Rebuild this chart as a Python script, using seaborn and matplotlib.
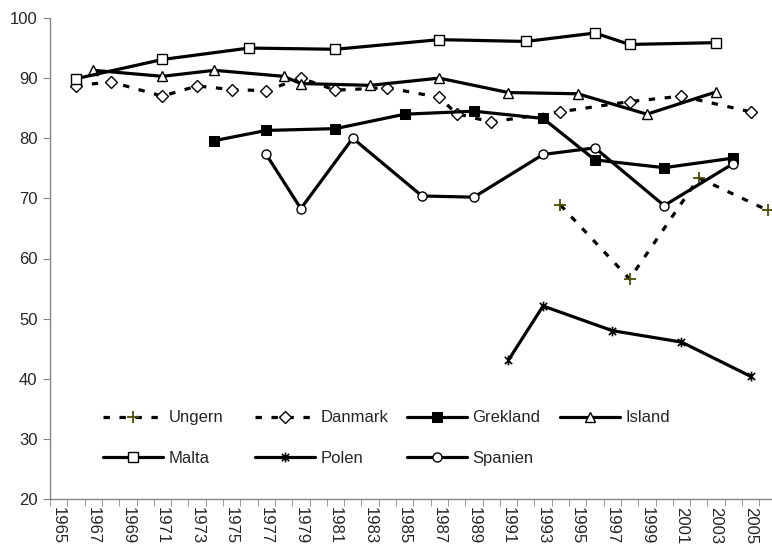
import pandas as pd
import numpy as np
import matplotlib
matplotlib.use('Agg')
import matplotlib.pyplot as plt
import seaborn as sns
from matplotlib.path import Path

# values (percent)
ungern_years = [1994, 1998, 2002, 2006]
ungern_vals = [68.9, 56.6, 73.4, 68.0]

danmark_years = [1966, 1968, 1971, 1973, 1975, 1977, 1979, 1981, 1984, 1987, 1988, 1990, 1994, 1998, 2001, 2005]
danmark_vals = [88.7, 89.4, 87.0, 88.7, 88.1, 87.9, 90.0, 88.0, 88.4, 86.8, 84.1, 82.7, 84.4, 86.1, 87.0, 84.4]

grekland_years = [1974, 1977, 1981, 1985, 1989, 1993, 1996, 2000, 2004]
grekland_vals = [79.6, 81.3, 81.6, 84.0, 84.5, 83.3, 76.4, 75.1, 76.7]

island_years = [1967, 1971, 1974, 1978, 1979, 1983, 1987, 1991, 1995, 1999, 2003]
island_vals = [91.3, 90.3, 91.3, 90.3, 89.1, 88.8, 90.0, 87.6, 87.4, 84.0, 87.7]

malta_years = [1966, 1971, 1976, 1981, 1987, 1992, 1996, 1998, 2003]
malta_vals = [89.9, 93.1, 95.0, 94.8, 96.4, 96.1, 97.5, 95.6, 95.9]

polen_years = [1991, 1993, 1997, 2001, 2005]
polen_vals = [43.1, 52.1, 48.0, 46.1, 40.4]

spanien_years = [1977, 1979, 1982, 1986, 1989, 1993, 1996, 2000, 2004]
spanien_vals = [77.3, 68.3, 80.0, 70.4, 70.2, 77.3, 78.4, 68.8, 75.8]

year_labels = list(range(1965, 2006, 2))

sns.set_style('white')
plt.rcParams['font.family'] = ['Liberation Sans', 'DejaVu Sans']

fig = plt.figure(figsize=(7.72, 5.51), dpi=100)
ax = fig.add_axes([50 / 772, 52 / 551, 726.6 / 772, 481 / 551])

asterisk = Path([(0, -1), (0, 1), (-0.75, -0.75), (0.75, 0.75), (-0.75, 0.75), (0.75, -0.75)],
                [Path.MOVETO, Path.LINETO] * 3)

dash = (0, (2.0, 3.0))
lw = 2.3
series = [
    ('Ungern', ungern_years, ungern_vals, dict(marker='+', markersize=8, markeredgecolor='#4d4d00',
                                               markeredgewidth=1.3, linestyle=dash)),
    ('Danmark', danmark_years, danmark_vals, dict(marker='D', markersize=6, markerfacecolor='white',
                                                  markeredgecolor='black', markeredgewidth=1.0, linestyle=dash)),
    ('Grekland', grekland_years, grekland_vals, dict(marker='s', markersize=7, markerfacecolor='black',
                                                     markeredgecolor='black', linestyle='-')),
    ('Island', island_years, island_vals, dict(marker='^', markersize=7, markerfacecolor='white',
                                               markeredgecolor='black', markeredgewidth=1.0, linestyle='-')),
    ('Malta', malta_years, malta_vals, dict(marker='s', markersize=7, markerfacecolor='white',
                                            markeredgecolor='black', markeredgewidth=1.0, linestyle='-')),
    ('Polen', polen_years, polen_vals, dict(marker=asterisk, markersize=7, markeredgecolor='black',
                                            markeredgewidth=1.2, linestyle='-')),
    ('Spanien', spanien_years, spanien_vals, dict(marker='o', markersize=6.5, markerfacecolor='white',
                                                  markeredgecolor='black', markeredgewidth=1.0, linestyle='-')),
]

for name, yrs, vals, style in series:
    df = pd.DataFrame({'Year': yrs, 'Value': vals})
    sns.lineplot(data=df, x='Year', y='Value', ax=ax, color='black', linewidth=lw,
                 errorbar=None, label=name, legend=False, **style)

ax.set_xlim(1964.5, 2006.5)
ax.set_ylim(20, 100)
ax.set_yticks(range(20, 101, 10))
ax.set_xticks(year_labels)
ax.set_xticklabels([str(y) for y in year_labels], rotation=270, fontsize=12)
ax.set_xticks(np.arange(1964.5, 2007, 1), minor=True)
ax.tick_params(axis='x', which='major', length=0, pad=6)
ax.tick_params(axis='x', which='minor', length=5, color='#868686', direction='out', bottom=True)
ax.tick_params(axis='y', length=5, color='#868686', direction='out', left=True, labelsize=12, pad=4)
ax.set_xlabel('')
ax.set_ylabel('')
for s in ['top', 'right']:
    ax.spines[s].set_visible(False)
for s in ['left', 'bottom']:
    ax.spines[s].set_color('#868686')
    ax.spines[s].set_linewidth(1.0)

# Excel-style legend: equal-width columns, filled row by row -> one legend per column
hmap = {line.get_label(): line for line in ax.get_lines()}
columns = [(['Ungern', 'Malta'], 101), (['Danmark', 'Polen'], 253),
           (['Grekland', 'Spanien'], 405), (['Island'], 558)]
for names, xpos in columns:
    fig.legend([hmap[k] for k in names], names, frameon=False, loc='upper left',
               bbox_to_anchor=((xpos - 6) / 772, 1 - 402 / 551), bbox_transform=fig.transFigure,
               borderpad=0, handlelength=3.6, handletextpad=0.3,
               labelspacing=1.55, numpoints=1, fontsize=12)

fig.savefig('out.png', dpi=100)
